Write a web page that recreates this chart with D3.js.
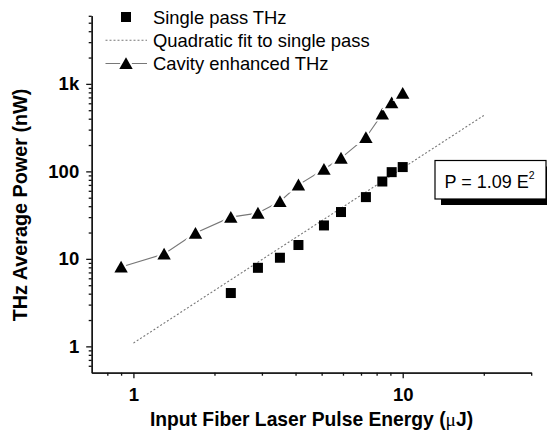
<!DOCTYPE html>
<html lang="en">
<head>
  <meta charset="UTF-8">
  <title>THz power vs pulse energy</title>
  <script src="https://d3js.org/d3.v7.min.js"></script>
  <style>
    body {
      margin: 0;
      background: #fff;
    }
    svg {
      display: block;
      font-family: "Liberation Sans", Arial, sans-serif;
    }
    .axis path, .axis line {
      stroke: #111;
      stroke-width: 1.3;
    }
    .axis text {
      font-family: "Liberation Sans", Arial, sans-serif;
      font-weight: bold;
      font-size: 18.5px;
      fill: #000;
    }
  </style>
</head>
<body>
  <svg id="chart" width="547" height="431"></svg>

  <script>
    // single pass THz (squares)
    const singleE = [2.3, 2.9, 3.5, 4.1, 5.1, 5.9, 7.3, 8.4, 9.1, 10.0];
    const singleP = [4.07, 7.9, 10.3, 14.4, 24.1, 34.3, 50.8, 76.6, 98, 112];

    // cavity enhanced THz (triangles)
    const cavityE = [0.9, 1.3, 1.7, 2.3, 2.9, 3.5, 4.1, 5.1, 5.9, 7.3, 8.4, 9.1, 10.0];
    const cavityP = [8.07, 11.4, 19.7, 30.0, 33.4, 45.3, 70.2, 106, 142, 244, 454, 611, 783];

    // quadratic fit end points, P = 1.09 E^2
    const fitE = [1, 20];
    const fitP = [1.09, 436];

    const xMajor = [1, 10];
    const xMinor = [0.8, 0.9, 2, 3, 4, 5, 6, 7, 8, 9, 20, 30];
    const yMajor = [1, 10, 100, 1000];
    const yMajorLabels = ["1", "10", "100", "1k"];
    const yMinor = [0.6, 0.7, 0.8, 0.9, 2, 3, 4, 5, 6, 7, 8, 9,
      20, 30, 40, 50, 60, 70, 80, 90, 200, 300, 400, 500, 600, 700, 800, 900,
      2000, 3000, 4000, 5000, 6000];

    const legendLabels = ["Single pass THz", "Quadratic fit to single pass", "Cavity enhanced THz"];

    const svg = d3.select("#chart");

    const x = d3.scaleLog().domain([0.7, 30]).range([91.7, 531.2]);
    const y = d3.scaleLog().domain([0.5, 6000]).range([372.7, 15.8]);

    const x0 = x.range()[0];
    const y0 = y.range()[0];

    // axes: minor ticks first, then major ticks with labels
    svg.append("g")
      .attr("class", "axis")
      .attr("transform", `translate(0,${y0})`)
      .call(d3.axisBottom(x).tickValues(xMinor).tickSize(3).tickSizeOuter(0).tickFormat(""));
    svg.append("g")
      .attr("class", "axis")
      .attr("transform", `translate(0,${y0})`)
      .call(d3.axisBottom(x).tickValues(xMajor).tickSize(5.5).tickSizeOuter(0).tickPadding(9.5).tickFormat(d3.format("d")));

    svg.append("g")
      .attr("class", "axis")
      .attr("transform", `translate(${x0},0)`)
      .call(d3.axisLeft(y).tickValues(yMinor).tickSize(3).tickSizeOuter(0).tickFormat(""));
    svg.append("g")
      .attr("class", "axis")
      .attr("transform", `translate(${x0},0)`)
      .call(d3.axisLeft(y).tickValues(yMajor).tickSize(5.5).tickSizeOuter(0).tickPadding(7)
        .tickFormat((d, i) => yMajorLabels[i]));

    // axis titles
    const xTitle = svg.append("text")
      .attr("x", 311.5)
      .attr("y", 426)
      .attr("text-anchor", "middle")
      .style("font-weight", "bold")
      .style("font-size", "19.3px");
    xTitle.append("tspan").text("Input Fiber Laser Pulse Energy (");
    xTitle.append("tspan").style("font-family", "'Liberation Serif', serif").style("font-weight", "normal").text("μ");
    xTitle.append("tspan").text("J)");

    svg.append("text")
      .attr("transform", "translate(26.5,205) rotate(-90)")
      .attr("text-anchor", "middle")
      .style("font-weight", "bold")
      .style("font-size", "19.8px")
      .text("THz Average Power (nW)");

    // quadratic fit (dotted)
    const line = d3.line().x(d => x(d[0])).y(d => y(d[1]));
    svg.append("path")
      .datum(fitE.map((e, i) => [e, fitP[i]]))
      .attr("d", line)
      .attr("fill", "none")
      .attr("stroke", "#777")
      .attr("stroke-width", 1.1)
      .attr("stroke-dasharray", "2,2");

    // cavity enhanced connecting line
    const cavity = cavityE.map((e, i) => [e, cavityP[i]]);
    svg.append("path")
      .datum(cavity)
      .attr("d", line)
      .attr("fill", "none")
      .attr("stroke", "#777")
      .attr("stroke-width", 1.1);

    const triPath = "M0,-6.2L6.7,5.6H-6.7Z";

    svg.selectAll(".tri")
      .data(cavity)
      .join("path")
      .attr("class", "tri")
      .attr("d", triPath)
      .attr("transform", d => `translate(${x(d[0])},${y(d[1])})`)
      .attr("fill", "#000")
      .attr("stroke", "#fff")
      .attr("stroke-width", 4)
      .attr("paint-order", "stroke");

    svg.selectAll(".sq")
      .data(singleE.map((e, i) => [e, singleP[i]]))
      .join("rect")
      .attr("class", "sq")
      .attr("x", d => x(d[0]) - 5)
      .attr("y", d => y(d[1]) - 5)
      .attr("width", 10)
      .attr("height", 10)
      .attr("fill", "#000");

    // legend
    const leg = svg.append("g").style("font-size", "18.4px");
    const rows = [17, 40.3, 63.5];
    leg.append("rect").attr("x", 121).attr("y", rows[0] - 5).attr("width", 10).attr("height", 10);
    leg.append("line")
      .attr("x1", 105.5).attr("x2", 147).attr("y1", rows[1]).attr("y2", rows[1])
      .attr("stroke", "#777").attr("stroke-width", 1.1).attr("stroke-dasharray", "2,2");
    leg.append("line")
      .attr("x1", 105.5).attr("x2", 147).attr("y1", rows[2]).attr("y2", rows[2])
      .attr("stroke", "#777").attr("stroke-width", 1.1);
    leg.append("path")
      .attr("d", triPath)
      .attr("transform", `translate(126,${rows[2]})`)
      .attr("fill", "#000")
      .attr("stroke", "#fff")
      .attr("stroke-width", 4)
      .attr("paint-order", "stroke");
    leg.selectAll(".lt")
      .data(legendLabels)
      .join("text")
      .attr("class", "lt")
      .attr("x", 153)
      .attr("y", (d, i) => rows[i] + 6.6)
      .text(d => d);

    // fit equation box with shadow
    svg.append("rect")
      .attr("x", 441).attr("y", 166.5).attr("width", 112).attr("height", 38.5)
      .attr("fill", "#000");
    svg.append("rect")
      .attr("x", 435).attr("y", 160.5).attr("width", 111).attr("height", 38.5)
      .attr("fill", "#fff").attr("stroke", "#000").attr("stroke-width", 1.2);
    const eq = svg.append("text")
      .attr("x", 444.5)
      .attr("y", 187.5)
      .style("font-size", "18px");
    eq.append("tspan").text("P = 1.09 E");
    eq.append("tspan").attr("dy", -8.5).style("font-size", "10.5px").text("2");
  </script>
</body>
</html>
